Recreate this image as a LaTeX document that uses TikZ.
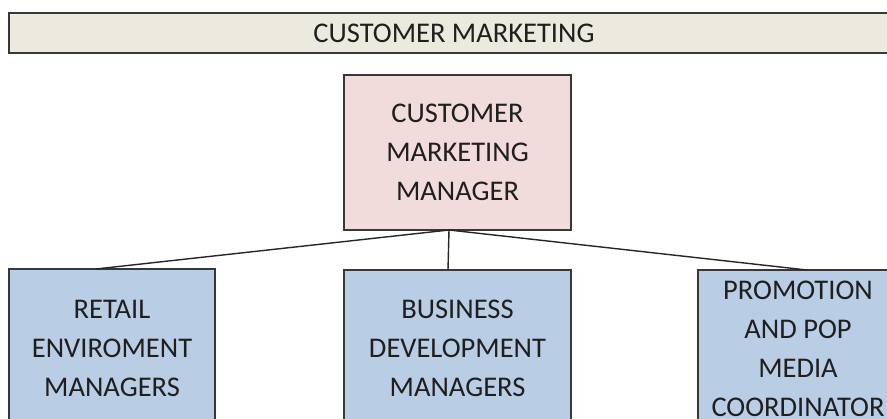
\documentclass[tikz,border=0pt]{standalone}
\usepackage{fontspec}
\setmainfont{Carlito}
\begin{document}
\begin{tikzpicture}[x=1pt,y=-1pt,
  box/.style={draw=black!78,line width=1.8pt,inner sep=0pt,outer sep=0pt,
    align=center,text=black!88,font=\fontsize{28.5}{39}\selectfont},
  banner/.style={box,fill=bannerfill},
  headbox/.style={box,fill=headfill},
  teambox/.style={box,fill=teamfill},
  link/.style={draw=black!85,line width=1.4pt}]
\definecolor{bannerfill}{HTML}{ECEADF}
\definecolor{headfill}{HTML}{F2DCDB}
\definecolor{teamfill}{HTML}{B9CDE5}
\useasboundingbox (0,0) rectangle (887,419);
\fill[white] (0,0) rectangle (887,419);
\begin{scope}
\clip (0,0) rectangle (887,419);
% department banner
\node[banner,minimum width=890pt,minimum height=40pt] (dept) at (454,33) {CUSTOMER MARKETING};
% head of department
\node[headbox,minimum width=227pt,minimum height=155pt] (mgr) at (457.5,152.5)
  {CUSTOMER\\MARKETING\\MANAGER};
% reporting teams
\node[teambox,minimum width=206pt,minimum height=158pt] (retail) at (112,348)
  {RETAIL\\ENVIROMENT\\MANAGERS};
\node[teambox,minimum width=227pt,minimum height=157pt] (bizdev) at (457.5,348.5)
  {BUSINESS\\DEVELOPMENT\\MANAGERS};
\node[teambox,minimum width=200pt,minimum height=158pt] (promo) at (798,349)
  {PROMOTION\\AND POP\\MEDIA\\COORDINATOR};
% reporting lines
\coordinate (hub) at ([xshift=-8.5pt]mgr.south);
\draw[link] (hub) -- ([xshift=-16pt]retail.north);
\draw[link] (hub) -- ([xshift=-9.5pt]bizdev.north);
\draw[link] (hub) -- ([xshift=9pt]promo.north);
\end{scope}
\end{tikzpicture}
\end{document}
